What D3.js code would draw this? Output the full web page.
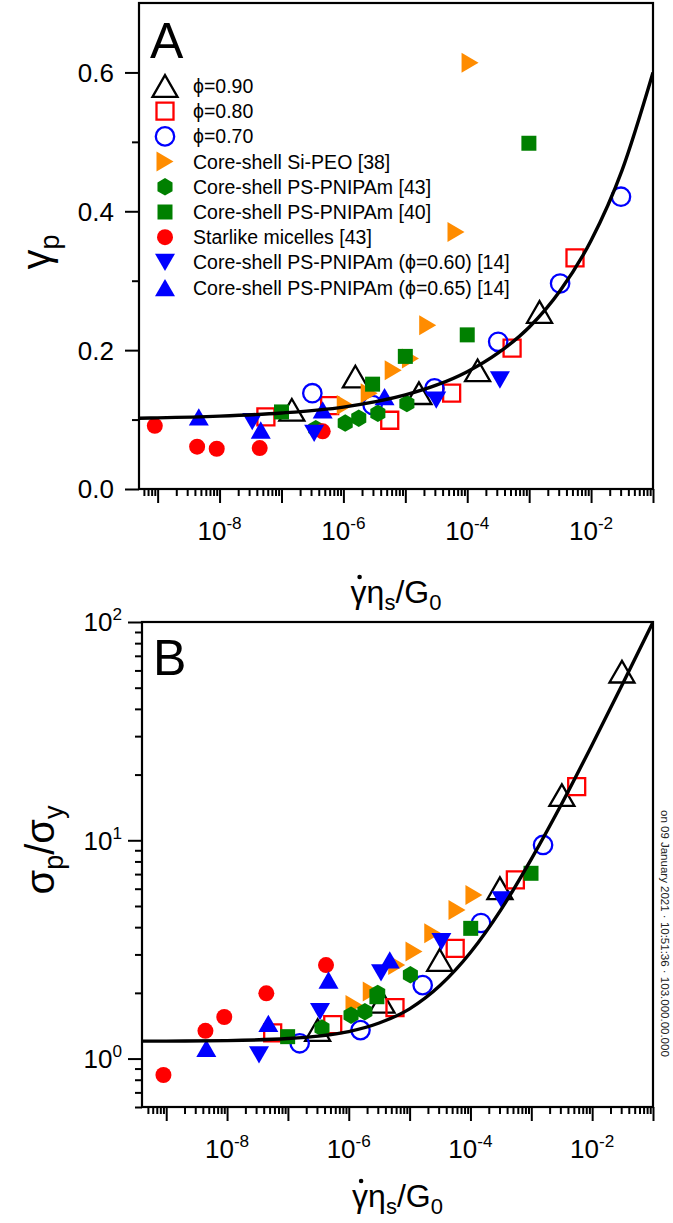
<!DOCTYPE html>
<html><head><meta charset="utf-8">
<script src="https://cdn.jsdelivr.net/npm/d3@7"></script>
<style>
body{margin:0;background:#fff;}
svg{display:block;font-family:"Liberation Sans",Arial,sans-serif;}
</style></head><body>
<svg id="chart" width="673" height="1223"></svg>
<script>
// ===== DATA =====
const legendLabels = ["\u03D5=0.90","\u03D5=0.80","\u03D5=0.70","Core-shell Si-PEO [38]","Core-shell PS-PNIPAm [43]","Core-shell PS-PNIPAm [40]","Starlike micelles [43]","Core-shell PS-PNIPAm (\u03D5=0.60) [14]","Core-shell PS-PNIPAm (\u03D5=0.65) [14]"];
const seriesKeys = ["phi90","phi80","phi70","siPEO","hex43","sq40","star","dn60","up65"];

// Panel A: gamma_p vs shear rate
const A_phi90 = [[1.47e-7,0.114],[1.56e-6,0.162],[1.66e-5,0.138],[1.47e-4,0.171],[1.47e-3,0.255]];
const A_phi80 = [[5.6e-8,0.104],[6.0e-7,0.120],[5.6e-6,0.099],[5.6e-5,0.138],[5.3e-4,0.203],[5.5e-3,0.333]];
const A_phi70 = [[3.15e-7,0.138],[2.96e-6,0.121],[2.96e-5,0.145],[3.16e-4,0.212],[3.16e-3,0.296],[3.04e-2,0.421]];
const A_siPEO = [[1.07e-6,0.121],[2.61e-6,0.138],[6.37e-6,0.171],[1.21e-5,0.188],[2.30e-5,0.236],[6.58e-5,0.370],[1.11e-4,0.614]];
const A_hex43 = [[3.58e-7,0.087],[1.07e-6,0.095],[1.77e-6,0.102],[3.6e-6,0.109],[1.06e-5,0.123]];
const A_sq40  = [[1.0e-7,0.111],[2.96e-6,0.151],[1.0e-5,0.191],[1.0e-4,0.222],[9.9e-4,0.498]];
const A_star  = [[9.0e-10,0.091],[4.34e-9,0.061],[9.0e-9,0.058],[4.45e-8,0.059],[4.63e-7,0.083]];
const A_dn60  = [[3.37e-8,0.097],[3.37e-7,0.080],[3.16e-5,0.128],[3.37e-4,0.157]];
const A_up65  = [[4.62e-9,0.104],[4.63e-8,0.085],[4.63e-7,0.114],[4.62e-6,0.133]];
const A_curve = [[5e-10,0.102],[1e-9,0.1025],[1e-8,0.105],[1e-7,0.1095],[1e-6,0.118],[1e-5,0.1355],[3.16e-5,0.1495],[1e-4,0.169],[3.16e-4,0.196],[1e-3,0.233],[3.16e-3,0.2855],[1e-2,0.358],[3.16e-2,0.459],[1e-1,0.600]];

// Panel B: sigma_p/sigma_y vs shear rate
const B_phi90 = [[3.09e-2,59.2],[3.18e-3,16.1],[3.05e-4,6.03],[3.12e-5,2.83],[3.52e-6,1.82],[3.08e-7,1.35]];
const B_phi80 = [[5.57e-3,17.6],[5.47e-4,6.58],[5.61e-5,3.20],[5.75e-6,1.71],[5.45e-7,1.43],[5.62e-8,1.31]];
const B_phi70 = [[1.56e-3,9.52],[1.49e-4,4.18],[1.64e-5,2.17],[1.56e-6,1.35],[1.56e-7,1.175]];
const B_siPEO = [[1.14e-4,5.62],[6.01e-5,4.79],[2.40e-5,3.75],[1.18e-5,3.09],[6.14e-6,2.68],[2.34e-6,2.03],[1.22e-6,1.76]];
const B_hex43 = [[1.03e-5,2.42],[2.99e-6,1.99],[1.84e-6,1.64],[1.09e-6,1.58],[3.63e-7,1.38]];
const B_sq40  = [[9.89e-4,7.06],[1.01e-4,3.95],[2.9e-6,1.92],[9.9e-8,1.26]];
const B_star  = [[4.23e-7,2.68],[4.42e-8,1.99],[9.0e-9,1.55],[4.41e-9,1.34],[9.0e-10,0.841]];
const B_dn60  = [[3.25e-4,5.33],[3.33e-5,3.43],[3.39e-6,2.47],[3.37e-7,1.64],[3.35e-8,1.04]];
const B_up65  = [[4.72e-6,2.83],[4.65e-7,2.29],[4.77e-8,1.45],[4.56e-9,1.115]];
const B_curve = [[4e-10,1.2015],[1e-9,1.2025],[1e-8,1.209],[1e-7,1.235],[3.16e-7,1.268],[1e-6,1.33],[3.16e-6,1.455],[1e-5,1.69],[3.16e-5,2.16],[1e-4,3.06],[3.16e-4,4.8],[1e-3,8.2],[3.16e-3,14.7],[1e-2,27.4],[3.16e-2,52],[1e-1,99.8]];

// Tick labels
const xLabelExps = ["-8","-6","-4","-2"];
const yTicksA = ["0.0","0.2","0.4","0.6"];
const yLabelExpsB = ["0","1","2"];

// ===== DRAWING =====
const svg = d3.select("#chart");
const ORANGE="#ff8c00", GREEN="#008000", RED="#ff0000", BLUE="#0000ff";

function triUp(s){const h=s*Math.sqrt(3)/2;return `M0,${-h/2}L${s/2},${h/2}L${-s/2},${h/2}Z`;}
function triDown(s){const h=s*Math.sqrt(3)/2;return `M0,${h/2}L${s/2},${-h/2}L${-s/2},${-h/2}Z`;}
function triRight(hgt,w){return `M${-w/2},${-hgt/2}L${w/2},0L${-w/2},${hgt/2}Z`;}
function square(s){return `M${-s/2},${-s/2}h${s}v${s}h${-s}Z`;}
function circle(r){return `M${r},0A${r},${r} 0 1 1 ${-r},0A${r},${r} 0 1 1 ${r},0Z`;}
function hexagon(r){let p="";for(let k=0;k<6;k++){const a=(-90+60*k)*Math.PI/180;p+=(k?"L":"M")+(r*Math.cos(a)).toFixed(2)+","+(r*Math.sin(a)).toFixed(2);}return p+"Z";}

const styles = {
  phi90:{d:triUp(25),fill:"none",stroke:"#000",sw:2.3},
  phi80:{d:square(17),fill:"none",stroke:RED,sw:2.3},
  phi70:{d:circle(9.2),fill:"none",stroke:BLUE,sw:2.3},
  siPEO:{d:triRight(20,17),fill:ORANGE,stroke:"none",sw:0},
  hex43:{d:hexagon(8.7),fill:GREEN,stroke:"none",sw:0},
  sq40:{d:square(15),fill:GREEN,stroke:"none",sw:0},
  star:{d:circle(8),fill:RED,stroke:"none",sw:0},
  dn60:{d:triDown(20),fill:BLUE,stroke:"none",sw:0},
  up65:{d:triUp(20),fill:BLUE,stroke:"none",sw:0}
};

function powText(sel, base, exp, fs){
  sel.append("tspan").text(base);
  sel.append("tspan").attr("dy",-0.42*fs).attr("font-size",0.66*fs).text(exp);
}

function drawPanel(p){
  const x=d3.scaleLog().domain(p.xDomain).range([p.left,p.right]);
  const y=(p.yLog?d3.scaleLog():d3.scaleLinear()).domain(p.yDomain).range([p.bottom,p.top]);
  const g=svg.append("g");
  const clipId="clip"+p.id;
  svg.append("clipPath").attr("id",clipId).append("rect")
    .attr("x",p.left).attr("y",p.top).attr("width",p.right-p.left).attr("height",p.bottom-p.top);

  // x ticks
  const lo=Math.log10(p.xDomain[0]), hi=Math.log10(p.xDomain[1]);
  const xMaj=[], xMin=[];
  for(let e=Math.floor(lo);e<=Math.ceil(hi);e++){
    const v=Math.pow(10,e); if(e>=lo-1e-9&&e<=hi+1e-9) xMaj.push(v);
    for(let k=2;k<=9;k++){const w=k*v;const lw=Math.log10(w);if(lw>lo+1e-6&&lw<hi-1e-6) xMin.push(w);}
  }
  const xa=g.append("g").attr("transform",`translate(0,${p.bottom})`);
  xa.append("g").call(d3.axisBottom(x).tickValues(xMaj).tickSize(14).tickFormat(""));
  xa.append("g").call(d3.axisBottom(x).tickValues(xMin).tickSize(7).tickFormat(""));
  xa.selectAll(".domain").remove();
  xa.selectAll("line").attr("stroke","#000").attr("stroke-width",2);

  // x tick labels
  xLabelExps.forEach(e=>{
    const t=g.append("text").attr("x",x(Math.pow(10,+e))).attr("y",p.bottom+51)
      .attr("text-anchor","middle").attr("font-size",26).attr("fill","#000");
    powText(t,"10",e,26);
  });

  // y ticks
  const ya=g.append("g").attr("transform",`translate(${p.left},0)`);
  ya.append("g").call(d3.axisLeft(y).tickValues(p.yMaj).tickSize(14).tickFormat(""));
  ya.append("g").call(d3.axisLeft(y).tickValues(p.yMin).tickSize(7).tickFormat(""));
  ya.selectAll(".domain").remove();
  ya.selectAll("line").attr("stroke","#000").attr("stroke-width",2);
  p.yLabels(g,y);

  // frame
  g.append("rect").attr("x",p.left).attr("y",p.top).attr("width",p.right-p.left).attr("height",p.bottom-p.top)
    .attr("fill","none").attr("stroke","#000").attr("stroke-width",2.2);

  // data
  const pg=g.append("g").attr("clip-path",`url(#${clipId})`);
  seriesKeys.forEach((k,i)=>{
    const st=styles[k];
    pg.append("g").selectAll("path").data(p.series[i]).join("path")
      .attr("transform",d=>`translate(${x(d[0])},${y(d[1])})`)
      .attr("d",st.d).attr("fill",st.fill).attr("stroke",st.stroke).attr("stroke-width",st.sw);
  });
  // fit curve
  pg.append("path").datum(p.curve)
    .attr("d",d3.line().x(d=>x(d[0])).y(d=>y(d[1])).curve(d3.curveMonotoneX))
    .attr("fill","none").attr("stroke","#000").attr("stroke-width",3.4);

  // panel letter
  g.append("text").attr("x",p.left+11).attr("y",p.top+p.letterDy).attr("font-size",50).text(p.letter);

  // x title: gamma-dot eta_s / G_0
  const xt=g.append("text").attr("x",(p.left+p.right)/2).attr("y",p.bottom+p.titleDy)
    .attr("text-anchor","middle").attr("font-size",32).attr("fill","#000");
  xt.append("tspan").text("\u03B3");
  xt.append("tspan").text("\u03B7");
  xt.append("tspan").attr("font-size",22).attr("dy",7).text("s");
  xt.append("tspan").attr("dy",-7).text("/G");
  xt.append("tspan").attr("font-size",22).attr("dy",7).text("0");
  const ext=xt.node().getExtentOfChar(0);
  g.append("circle").attr("cx",ext.x+ext.width/2+1).attr("cy",ext.y+3).attr("r",2.3).attr("fill","#000");
  return {x,y,g};
}

// ---- Panel A ----
const pA=drawPanel({
  id:"A", letter:"A", letterDy:55, titleDy:114,
  left:139,right:653,top:3,bottom:489,
  xDomain:[5e-10,1e-1], yDomain:[0,0.7], yLog:false,
  yMaj:[0,0.2,0.4,0.6], yMin:[0.1,0.3,0.5],
  series:[A_phi90,A_phi80,A_phi70,A_siPEO,A_hex43,A_sq40,A_star,A_dn60,A_up65],
  curve:A_curve,
  yLabels:(g,y)=>{
    yTicksA.forEach(s=>{
      g.append("text").attr("x",114).attr("y",y(+s)).attr("dy","0.36em").attr("text-anchor","end")
        .attr("font-size",26).text(s);
    });
  }
});
// y title A
const ytA=svg.append("text").attr("transform","translate(50,252) rotate(-90)").attr("text-anchor","middle").attr("font-size",40);
ytA.append("tspan").text("\u03B3");
ytA.append("tspan").attr("font-size",27).attr("dy",9).text("p");

// legend A
const leg=svg.append("g");
seriesKeys.forEach((k,i)=>{
  const st=styles[k], cy=86+25.2*i;
  leg.append("path").attr("transform",`translate(165,${cy})`).attr("d",st.d)
    .attr("fill",st.fill).attr("stroke",st.stroke).attr("stroke-width",st.sw);
  leg.append("text").attr("x",193).attr("y",cy).attr("dy","0.36em").attr("font-size",19.5).text(legendLabels[i]);
});

// ---- Panel B ----
const bMin=[];[0.1,1,10].forEach(v=>{for(let k=2;k<=9;k++){const w=k*v;if(w>=0.6&&w<100)bMin.push(w);}});
const pB=drawPanel({
  id:"B", letter:"B", letterDy:53, titleDy:100,
  left:142,right:653,top:622,bottom:1107,
  xDomain:[4e-10,1e-1], yDomain:[0.6,100], yLog:true,
  yMaj:[1,10,100], yMin:bMin,
  series:[B_phi90,B_phi80,B_phi70,B_siPEO,B_hex43,B_sq40,B_star,B_dn60,B_up65],
  curve:B_curve,
  yLabels:(g,y)=>{
    yLabelExpsB.forEach(e=>{
      const t=g.append("text").attr("x",122).attr("y",y(Math.pow(10,+e))).attr("dy","0.36em")
        .attr("text-anchor","end").attr("font-size",26);
      powText(t,"10",e,26);
    });
  }
});
// y title B
const ytB=svg.append("text").attr("transform","translate(54,850) rotate(-90)").attr("text-anchor","middle").attr("font-size",40);
ytB.append("tspan").text("\u03C3");
ytB.append("tspan").attr("font-size",27).attr("dy",9).text("p");
ytB.append("tspan").attr("dy",-9).text("/\u03C3");
ytB.append("tspan").attr("font-size",27).attr("dy",9).text("y");

// side watermark text (rotated)
svg.append("text").attr("transform","translate(661,810) rotate(90)").attr("font-size",11.5).attr("fill","#222")
  .text("on 09 January 2021 \u00B7 10:51:36 \u00B7 103.000.00.000");
</script>
</body></html>
